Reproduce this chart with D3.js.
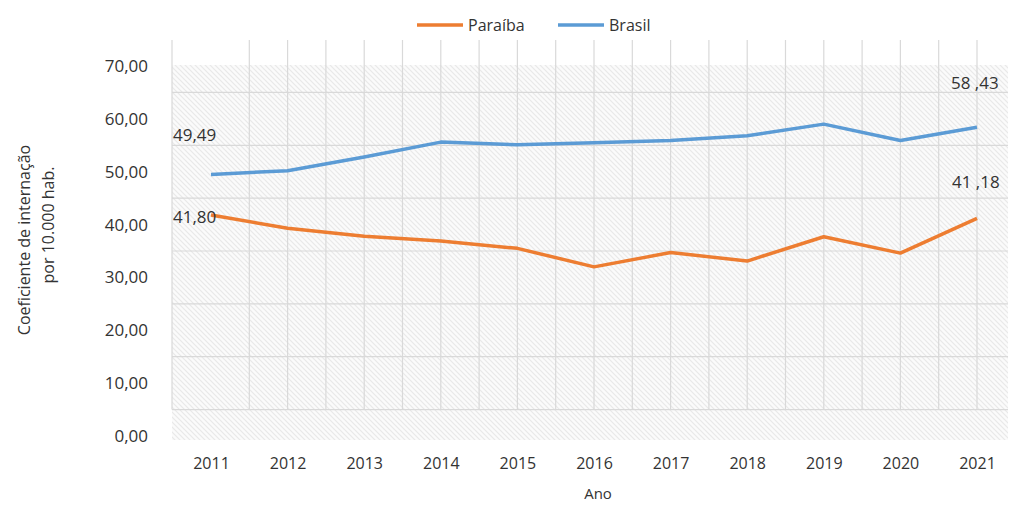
<!DOCTYPE html>
<html>
<head>
<meta charset="utf-8">
<script src="https://cdn.jsdelivr.net/npm/d3@7"></script>
<style>
  body { margin: 0; background: #fff; }
  svg text { font-family: "Open Sans", sans-serif; fill: #333; }
</style>
</head>
<body>
<div id="chart"></div>
<script>
var years = [2011, 2012, 2013, 2014, 2015, 2016, 2017, 2018, 2019, 2020, 2021];
var paraiba = [41.80, 39.3, 37.8, 36.9, 35.5, 32.0, 34.7, 33.1, 37.7, 34.6, 41.18];
var brasil = [49.49, 50.2, 52.8, 55.6, 55.1, 55.5, 55.9, 56.8, 59.0, 55.9, 58.43];
var yTicks = [0, 10, 20, 30, 40, 50, 60, 70];
var gridValues = [5, 15, 25, 35, 45, 55, 65];

var width = 1013, height = 506;

var svg = d3.select('#chart').append('svg')
    .attr('width', width)
    .attr('height', height);

var x = d3.scaleLinear().domain([2011, 2021]).range([211, 977]);
var y = d3.scaleLinear().domain([0, 70]).range([436, 66]);

// hatch texture for the plot area
var defs = svg.append('defs');
var pat = defs.append('pattern')
    .attr('id', 'hatch')
    .attr('patternUnits', 'userSpaceOnUse')
    .attr('width', 5).attr('height', 5);
pat.append('rect').attr('width', 5).attr('height', 5).attr('fill', '#fbfbfb');
pat.append('path')
    .attr('d', 'M0,0 L5,5 M-1,4 L1,6 M4,-1 L6,1')
    .attr('stroke', '#e9e9e9')
    .attr('stroke-width', 1.2);

svg.append('rect')
    .attr('x', 172).attr('y', 65)
    .attr('width', 836).attr('height', 375)
    .attr('fill', 'url(#hatch)');

// gridlines
var vGrid = d3.range(2011.5, 2021.01, 0.5);
svg.append('g').selectAll('line').data(vGrid).enter().append('line')
    .attr('x1', function(d) { return x(d); })
    .attr('x2', function(d) { return x(d); })
    .attr('y1', 40).attr('y2', y(5))
    .attr('stroke', '#d9d9d9').attr('stroke-width', 1.2);

svg.append('line')
    .attr('x1', 172).attr('x2', 172).attr('y1', 40).attr('y2', y(5))
    .attr('stroke', '#d9d9d9').attr('stroke-width', 1.2);

svg.append('g').selectAll('line').data(gridValues).enter().append('line')
    .attr('x1', 172).attr('x2', 1008)
    .attr('y1', function(d) { return y(d); })
    .attr('y2', function(d) { return y(d); })
    .attr('stroke', '#d9d9d9').attr('stroke-width', 1.2);

// axes
var yAxis = svg.append('g')
    .attr('transform', 'translate(154,0)')
    .call(d3.axisLeft(y).tickValues(yTicks).tickSize(0).tickPadding(6)
        .tickFormat(function(d) { return d3.format('.2f')(d).replace('.', ','); }));
yAxis.select('.domain').remove();
yAxis.selectAll('text').style('font-size', '17px').style('font-family', '"Open Sans", sans-serif').attr('fill', '#333');

var xAxis = svg.append('g')
    .attr('transform', 'translate(0,458)')
    .call(d3.axisBottom(x).tickValues(years).tickSize(0).tickPadding(0)
        .tickFormat(d3.format('d')));
xAxis.select('.domain').remove();
xAxis.selectAll('text').style('font-size', '16px').style('font-family', '"Open Sans", sans-serif').attr('fill', '#333');

svg.append('text')
    .attr('x', 598).attr('y', 499)
    .attr('text-anchor', 'middle')
    .style('font-size', '15px')
    .text('Ano');

svg.append('text')
    .attr('transform', 'translate(30,240) rotate(-90)')
    .attr('text-anchor', 'middle')
    .style('font-size', '16px')
    .text('Coeficiente de internação');
svg.append('text')
    .attr('transform', 'translate(54,225) rotate(-90)')
    .attr('text-anchor', 'middle')
    .style('font-size', '16px')
    .text('por 10.000 hab.');

// lines
var line = d3.line()
    .x(function(d, i) { return x(years[i]); })
    .y(function(d) { return y(d); });

svg.append('path').datum(brasil)
    .attr('d', line)
    .attr('fill', 'none')
    .attr('stroke', '#5b9bd5')
    .attr('stroke-width', 3.5)
    .attr('stroke-linejoin', 'round');

svg.append('path').datum(paraiba)
    .attr('d', line)
    .attr('fill', 'none')
    .attr('stroke', '#ed7d31')
    .attr('stroke-width', 3.5)
    .attr('stroke-linejoin', 'round');

// data labels
var labels = [
    { text: '49,49', x: 173, y: 141 },
    { text: '41,80', x: 173, y: 223 },
    { text: '58 ,43', x: 951, y: 89 },
    { text: '41 ,18', x: 952, y: 188 }
];
svg.append('g').selectAll('text').data(labels).enter().append('text')
    .attr('x', function(d) { return d.x; })
    .attr('y', function(d) { return d.y; })
    .style('font-size', '17px')
    .attr('fill', '#333')
    .text(function(d) { return d.text; });

// legend
var legend = [
    { name: 'Paraíba', color: '#ed7d31', x: 417 },
    { name: 'Brasil', color: '#5b9bd5', x: 558 }
];
var lg = svg.append('g').selectAll('g').data(legend).enter().append('g')
    .attr('transform', function(d) { return 'translate(' + d.x + ',25)'; });
lg.append('line')
    .attr('x1', 0).attr('x2', 46).attr('y1', 0).attr('y2', 0)
    .attr('stroke', function(d) { return d.color; })
    .attr('stroke-width', 3.5);
lg.append('text')
    .attr('x', 51).attr('y', 5.5)
    .style('font-size', '16px')
    .text(function(d) { return d.name; });
</script>
</body>
</html>
